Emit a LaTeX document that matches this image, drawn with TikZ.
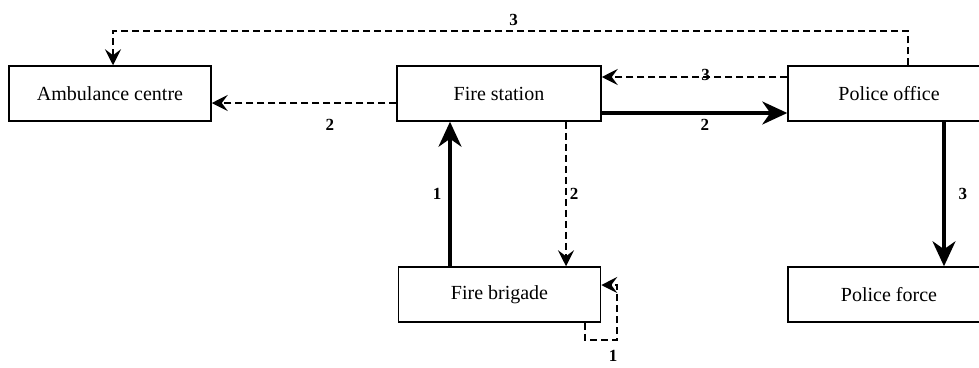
\documentclass[tikz,border=0pt]{standalone}
\usepackage{fontspec}
\setmainfont{Liberation Serif}
\usetikzlibrary{arrows.meta, positioning}

\begin{document}
\begin{tikzpicture}[
    x=1pt, y=-1pt,
    box/.style={rectangle, draw, line width=1.5pt, minimum width=202pt, minimum height=55pt, font=\fontsize{20}{24}\selectfont},
    lbl/.style={font=\fontsize{17}{20}\selectfont\bfseries, inner sep=1pt},
    solidarrow/.style={line width=3.2pt, -{Stealth[length=25pt, width=23pt, inset=8pt]}},
    dasharrow/.style={line width=1.6pt, dash pattern=on 7pt off 4pt, -{Stealth[length=16pt, width=16pt, inset=6pt]}}
]
\useasboundingbox (0,0) rectangle (979,367);

% Kasten
\node[box] (amb) at (110,93.5) {Ambulance centre};
\node[box, minimum width=204pt] (fs) at (499,93.5) {Fire station};
\node[box] (po) at (889,93.5) {Police office};
\node[box] (fb) at (499.5,294.5) {Fire brigade};
\node[box] (pf) at (889,294.5) {Police force};

% obere Reihe
\draw[dasharrow] ([xshift=19pt]po.north) |- ([xshift=3pt, yshift=34pt]amb.north)
    node[lbl, pos=0.748, above=4pt] {3} -- ([xshift=3pt]amb.north);
\draw[dasharrow] ([yshift=16.5pt]po.west) -- ([yshift=16.5pt]fs.east)
    node[lbl, pos=0.44, above=-5pt] {3};
\draw[solidarrow] ([yshift=-19.5pt]fs.east) -- ([yshift=-19.5pt]po.west)
    node[lbl, pos=0.556, below=4pt] {2};
\draw[dasharrow] ([yshift=-9.5pt]fs.west) -- ([yshift=-9.5pt]amb.east)
    node[lbl, pos=0.36, below=14pt] {2};

% senkrecht
\draw[solidarrow] ([xshift=-49.5pt]fb.north) -- ([xshift=-49pt]fs.south)
    node[lbl, midway, left=6pt] {1};
\draw[dasharrow] ([xshift=67pt]fs.south) -- ([xshift=66.5pt]fb.north)
    node[lbl, midway, right=2pt] {2};
\draw[solidarrow] ([xshift=55pt]po.south) -- ([xshift=55pt]pf.north)
    node[lbl, midway, right=12pt] {3};

% Schleife
\draw[dasharrow] ([xshift=85.5pt]fb.south) -- ++(0,17)
    -| ([xshift=16pt, yshift=9.5pt]fb.east) -- ([yshift=9.5pt]fb.east);
\node[lbl] (loop) at (613,356) {1};

\end{tikzpicture}
\end{document}
